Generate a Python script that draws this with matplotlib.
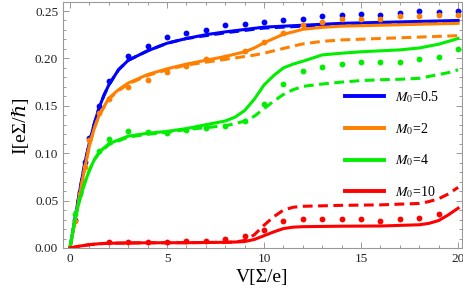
import matplotlib
matplotlib.use("Agg")
import matplotlib.pyplot as plt
from matplotlib.ticker import MultipleLocator

plt.rcParams['font.family'] = ['Liberation Serif', 'DejaVu Serif']
plt.rcParams['mathtext.fontset'] = 'stix'

BLUE = '#0000ff'
ORANGE = '#ff8000'
GREEN = '#00ee00'
RED = '#ff0000'

# ---- M0 = 0.5 ----
v_blue = [0, 0.25, 0.5, 0.75, 1, 1.25, 1.5, 1.75, 2, 2.5, 3, 4, 5, 6, 7, 8, 10, 12, 14, 16, 18, 20]
i_blue = [0, 0.03, 0.06, 0.088, 0.111, 0.131, 0.148, 0.161, 0.172, 0.188, 0.198, 0.208, 0.216,
          0.221, 0.225, 0.228, 0.233, 0.235, 0.237, 0.238, 0.239, 0.240]
i_blue_d = [0, 0.03, 0.06, 0.088, 0.111, 0.131, 0.148, 0.161, 0.172, 0.188, 0.198, 0.208, 0.216,
            0.221, 0.224, 0.227, 0.232, 0.234, 0.236, 0.237, 0.238, 0.239]
vd_blue = [0.25, 0.5, 0.75, 1, 1.5, 2, 3, 4, 5, 6, 7, 8, 9, 10, 11, 12, 13, 14, 15, 16, 17, 18, 19, 20]
id_blue = [0.030, 0.059, 0.091, 0.116, 0.150, 0.176, 0.203, 0.2135, 0.2226, 0.2265, 0.2297, 0.235,
           0.236, 0.238, 0.240, 0.2416, 0.2447, 0.2455, 0.2468, 0.2455, 0.2476, 0.2497, 0.2487, 0.2497]

# ---- M0 = 2 ----
v_orange = [0, 0.25, 0.5, 0.75, 1, 1.25, 1.5, 2, 2.5, 3, 4, 5, 6, 7, 8, 9, 9.5, 10, 10.5, 11,
            11.5, 12, 13, 14, 16, 18, 20]
i_orange = [0, 0.028, 0.056, 0.083, 0.108, 0.126, 0.140, 0.158, 0.167, 0.174, 0.183, 0.189, 0.194,
            0.198, 0.202, 0.207, 0.211, 0.2165, 0.221, 0.2255, 0.228, 0.2307, 0.2328, 0.234,
            0.235, 0.236, 0.237]
i_orange_d = [0, 0.028, 0.056, 0.083, 0.108, 0.126, 0.140, 0.157, 0.166, 0.173, 0.182, 0.188, 0.193,
              0.196, 0.199, 0.202, 0.2035, 0.2055, 0.208, 0.2105, 0.213, 0.2153, 0.218, 0.2195,
              0.221, 0.2225, 0.224]
vd_orange = [0.25, 0.5, 0.75, 1, 1.5, 2, 3, 4, 5, 6, 7, 8, 9, 10, 11, 12, 13, 14, 15, 16, 17, 18, 19, 20]
id_orange = [0.029, 0.057, 0.085, 0.114, 0.142, 0.157, 0.170, 0.1774, 0.186, 0.1924, 0.199, 0.201,
             0.208, 0.2177, 0.2265, 0.2353, 0.2387, 0.2413, 0.2413, 0.2413, 0.2447, 0.2447,
             0.2455, 0.2461]

# ---- M0 = 4 ----
v_green = [0, 0.25, 0.5, 0.75, 1, 1.25, 1.5, 2, 2.5, 3, 4, 5, 6, 7, 8, 8.5, 9, 9.5, 10, 10.5, 11,
           11.5, 12, 13, 14, 15, 16, 17, 18, 19, 19.5, 20]
i_green = [0, 0.030, 0.051, 0.068, 0.082, 0.093, 0.101, 0.110, 0.114, 0.118, 0.121, 0.123, 0.126,
           0.130, 0.134, 0.138, 0.145, 0.157, 0.172, 0.182, 0.190, 0.194, 0.197, 0.2037, 0.2055,
           0.207, 0.208, 0.209, 0.211, 0.215, 0.218, 0.221]
i_green_d = [0, 0.030, 0.051, 0.068, 0.082, 0.093, 0.100, 0.109, 0.113, 0.117, 0.120, 0.122, 0.125,
             0.127, 0.129, 0.131, 0.134, 0.139, 0.147, 0.155, 0.162, 0.167, 0.1705, 0.173, 0.175,
             0.1766, 0.1775, 0.178, 0.179, 0.183, 0.185, 0.188]
vd_green = [0.25, 1.5, 2, 3, 4, 5, 6, 7, 8, 9, 10, 11, 12, 13, 14, 15, 16, 17, 18, 19, 20]
id_green = [0.036, 0.102, 0.1153, 0.123, 0.122, 0.121, 0.125, 0.127, 0.129, 0.1335, 0.152, 0.173,
            0.187, 0.191, 0.194, 0.196, 0.1966, 0.1966, 0.199, 0.201, 0.2097]

# ---- M0 = 10 ----
v_red = [0, 0.5, 1, 1.5, 2, 3, 4, 6, 8, 8.5, 9, 9.5, 10, 10.5, 11, 11.5, 12, 14, 16, 18, 18.5,
         19, 19.5, 20]
i_red = [0, 0.002, 0.0035, 0.0045, 0.005, 0.0053, 0.0055, 0.0056, 0.006, 0.0063, 0.0068, 0.009,
         0.013, 0.017, 0.0205, 0.022, 0.0225, 0.023, 0.0232, 0.0245, 0.026, 0.029, 0.035, 0.042]
i_red_d = [0, 0.002, 0.0035, 0.0045, 0.005, 0.0053, 0.0055, 0.0056, 0.006, 0.0063, 0.008, 0.014,
           0.024, 0.033, 0.040, 0.043, 0.044, 0.045, 0.0455, 0.047, 0.049, 0.052, 0.057, 0.064]
vd_red = [2, 3, 4, 5, 6, 7, 8, 9, 10, 11, 12, 13, 14, 15, 16, 17, 18, 19]
id_red = [0.006, 0.006, 0.006, 0.006, 0.007, 0.007, 0.009, 0.013, 0.0195, 0.028, 0.031, 0.031,
          0.031, 0.031, 0.029, 0.031, 0.0317, 0.036]

labels = [r'$M_0$=0.5', r'$M_0$=2', r'$M_0$=4', r'$M_0$=10']

series = [
    (BLUE, v_blue, i_blue, i_blue_d, vd_blue, id_blue),
    (ORANGE, v_orange, i_orange, i_orange_d, vd_orange, id_orange),
    (GREEN, v_green, i_green, i_green_d, vd_green, id_green),
    (RED, v_red, i_red, i_red_d, vd_red, id_red),
]

fig = plt.figure(figsize=(4.63, 3.03), dpi=100)
ax = fig.add_axes([63 / 463, 1 - 248 / 303, 399 / 463, 246 / 303])

lw = 2.2
handles = []
for (c, v, i_s, i_d, vd, idots), lab in zip(series, labels):
    ax.plot(v, i_d, color=c, lw=lw, dashes=(3.2, 1.8), solid_capstyle='butt')
    ax.plot(vd, idots, 'o', color=c, ms=4.2, mew=0)
    h, = ax.plot(v, i_s, color=c, lw=lw, label=lab)
    handles.append(h)

ax.set_xlim(-0.36, 20.2)
ax.set_ylim(0, 0.2595)
ax.xaxis.set_major_locator(MultipleLocator(5))
ax.xaxis.set_minor_locator(MultipleLocator(1))
ax.yaxis.set_major_locator(MultipleLocator(0.05))
ax.yaxis.set_minor_locator(MultipleLocator(0.01))
ax.yaxis.set_major_formatter(plt.FuncFormatter(lambda y, p: '%.2f' % y))

for s in ax.spines.values():
    s.set_color('#999999')
    s.set_linewidth(0.8)
ax.tick_params(which='both', direction='in', top=True, right=True, color='#999999',
               labelsize=9.5, labelcolor='#222222', width=0.7)
ax.tick_params(which='major', length=4.5)
ax.tick_params(which='minor', length=2.5)

ax.set_xlabel('V[Σ/e]', fontsize=14, labelpad=3)
ax.set_ylabel('I[eΣ/ℏ]', fontsize=14, labelpad=4)

leg = ax.legend(handles=handles, loc='upper left', bbox_to_anchor=(345 / 463, 1 - 89 / 303),
                bbox_transform=fig.transFigure, frameon=False, fontsize=10,
                handlelength=2.8, handletextpad=0.8, labelspacing=1.15,
                borderpad=0, borderaxespad=0)
for line in leg.get_lines():
    line.set_linewidth(2.8)

fig.savefig('out.png', dpi=100)
